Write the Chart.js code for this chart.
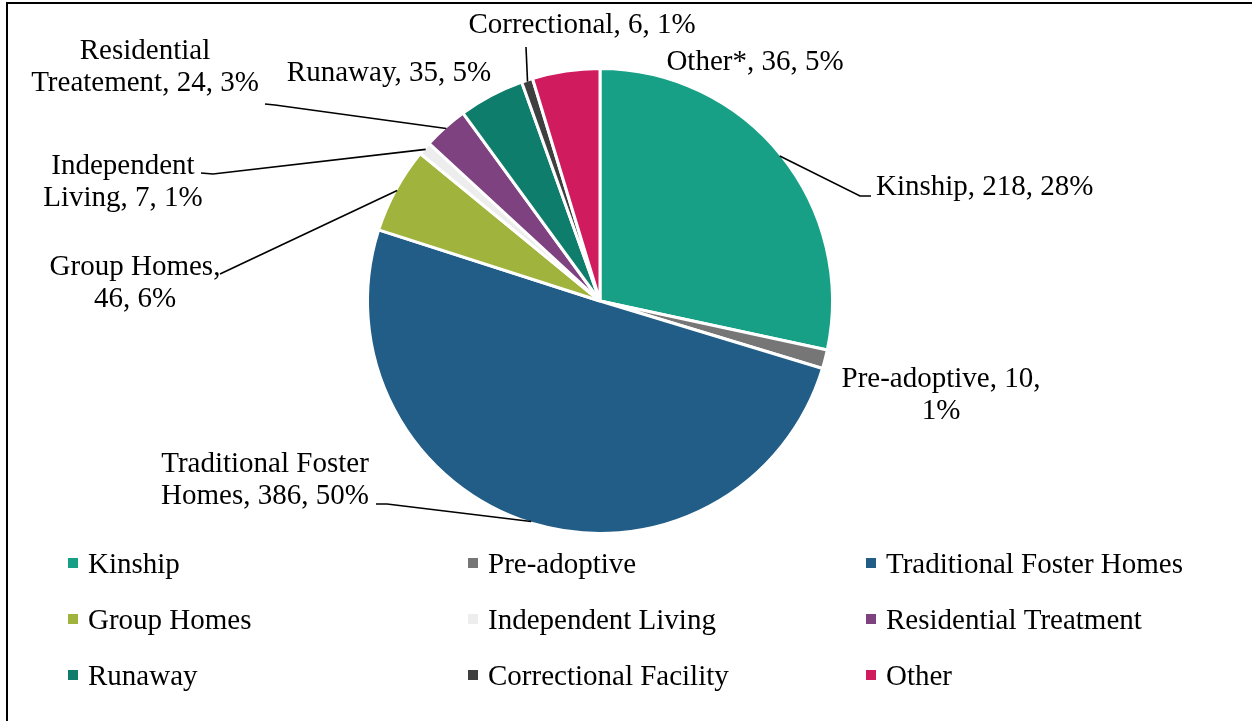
<!DOCTYPE html>
<html>
<head>
<meta charset="utf-8">
<title>Placement Types</title>
<script src="https://cdn.jsdelivr.net/npm/chart.js@4.4.1/dist/chart.umd.min.js"></script>
<style>
  html, body { margin: 0; padding: 0; background: #ffffff; }
  #wrap { position: relative; width: 1252px; height: 721px; }
</style>
</head>
<body>
<div id="wrap"><canvas id="placements" width="1252" height="721"></canvas></div>
<script>
// Placement categories (legend names), counts, and the names used in the slice callouts
const categories = ['Kinship', 'Pre-adoptive', 'Traditional Foster Homes', 'Group Homes',
  'Independent Living', 'Residential Treatment', 'Runaway', 'Correctional Facility', 'Other'];
const counts = [218, 10, 386, 46, 7, 24, 35, 6, 36];
const calloutNames = ['Kinship', 'Pre-adoptive', 'Traditional Foster Homes', 'Group Homes',
  'Independent Living', 'Residential Treatement', 'Runaway', 'Correctional', 'Other*'];
const sliceColors = ['#17a085', '#767676', '#215d87', '#a0b33c', '#ededed',
  '#7f4280', '#0e7d6b', '#3f3f3f', '#d01c5f'];

// Callout placement: first baseline, alignment, wrap width, and bend points of the leader line
const calloutLayout = [
  { x: 876, y: 195, align: 'left',   wrap: 400, leader: [[871, 196], [860, 196]] },
  { x: 941, y: 387, align: 'center', wrap: 210, leader: null },
  { x: 265, y: 472, align: 'center', wrap: 215, leader: [[376, 504], [387, 504]] },
  { x: 135, y: 275, align: 'center', wrap: 180, leader: [[220, 274]] },
  { x: 123, y: 174, align: 'center', wrap: 200, leader: [[201, 173], [213, 174]] },
  { x: 145, y: 59,  align: 'center', wrap: 232, leader: [[265, 104], [275, 105]] },
  { x: 389, y: 81,  align: 'center', wrap: 400, leader: null },
  { x: 582, y: 33,  align: 'center', wrap: 400, leader: [[526, 47]] },
  { x: 755, y: 70,  align: 'center', wrap: 400, leader: null }
];

const FONT = '29px "Liberation Serif", "Times New Roman", serif';
const LINE_H = 32;

function wrapText(ctx, text, maxWidth) {
  const words = text.split(' ');
  const lines = [];
  let cur = '';
  for (const w of words) {
    const test = cur ? cur + ' ' + w : w;
    if (cur && ctx.measureText(test).width > maxWidth) {
      lines.push(cur);
      cur = w;
    } else {
      cur = test;
    }
  }
  if (cur) lines.push(cur);
  return lines;
}

const calloutPlugin = {
  id: 'callouts',
  afterDraw(chart) {
    const ctx = chart.ctx;
    const meta = chart.getDatasetMeta(0);
    const values = chart.data.datasets[0].data;
    const total = values.reduce((a, b) => a + b, 0);
    ctx.save();

    // frame along the top and left edges
    ctx.fillStyle = '#000000';
    ctx.fillRect(6, 2, 1246, 2);
    ctx.fillRect(6, 2, 2, 719);

    // callout texts and leader lines
    ctx.font = FONT;
    ctx.fillStyle = '#000000';
    ctx.textBaseline = 'alphabetic';
    meta.data.forEach((arc, i) => {
      const lay = calloutLayout[i];
      const pct = Math.round(values[i] / total * 100);
      const text = `${calloutNames[i]}, ${values[i]}, ${pct}%`;
      const lines = wrapText(ctx, text, lay.wrap);
      ctx.textAlign = lay.align;
      lines.forEach((ln, k) => ctx.fillText(ln, lay.x, lay.y + k * LINE_H));

      if (lay.leader) {
        const p = arc.getProps(['x', 'y', 'startAngle', 'endAngle', 'outerRadius'], true);
        const mid = (p.startAngle + p.endAngle) / 2;
        const r = p.outerRadius - 1.5;
        const ex = p.x + Math.cos(mid) * r;
        const ey = p.y + Math.sin(mid) * r;
        ctx.beginPath();
        ctx.strokeStyle = '#000000';
        ctx.lineWidth = 1.6;
        ctx.moveTo(lay.leader[0][0], lay.leader[0][1]);
        for (let k = 1; k < lay.leader.length; k++) ctx.lineTo(lay.leader[k][0], lay.leader[k][1]);
        ctx.lineTo(ex, ey);
        ctx.stroke();
      }
    });

    // legend: three columns, three rows
    const colX = [68, 468, 866];
    const rowY = [573, 629, 685];
    ctx.textAlign = 'left';
    chart.data.labels.forEach((name, i) => {
      const cx = colX[i % 3];
      const by = rowY[Math.floor(i / 3)];
      ctx.fillStyle = sliceColors[i];
      ctx.fillRect(cx, by - 15, 10, 10);
      ctx.fillStyle = '#000000';
      ctx.fillText(name, cx + 20, by);
    });
    ctx.restore();
  }
};

new Chart(document.getElementById('placements'), {
  type: 'pie',
  data: {
    labels: categories,
    datasets: [{
      data: counts,
      backgroundColor: sliceColors,
      borderColor: '#ffffff',
      borderWidth: 3
    }]
  },
  options: {
    responsive: false,
    animation: false,
    events: [],
    layout: { padding: { left: 0, right: 52, top: 67, bottom: 186 } },
    plugins: {
      legend: { display: false },
      tooltip: { enabled: false }
    }
  },
  plugins: [calloutPlugin]
});
</script>
</body>
</html>
